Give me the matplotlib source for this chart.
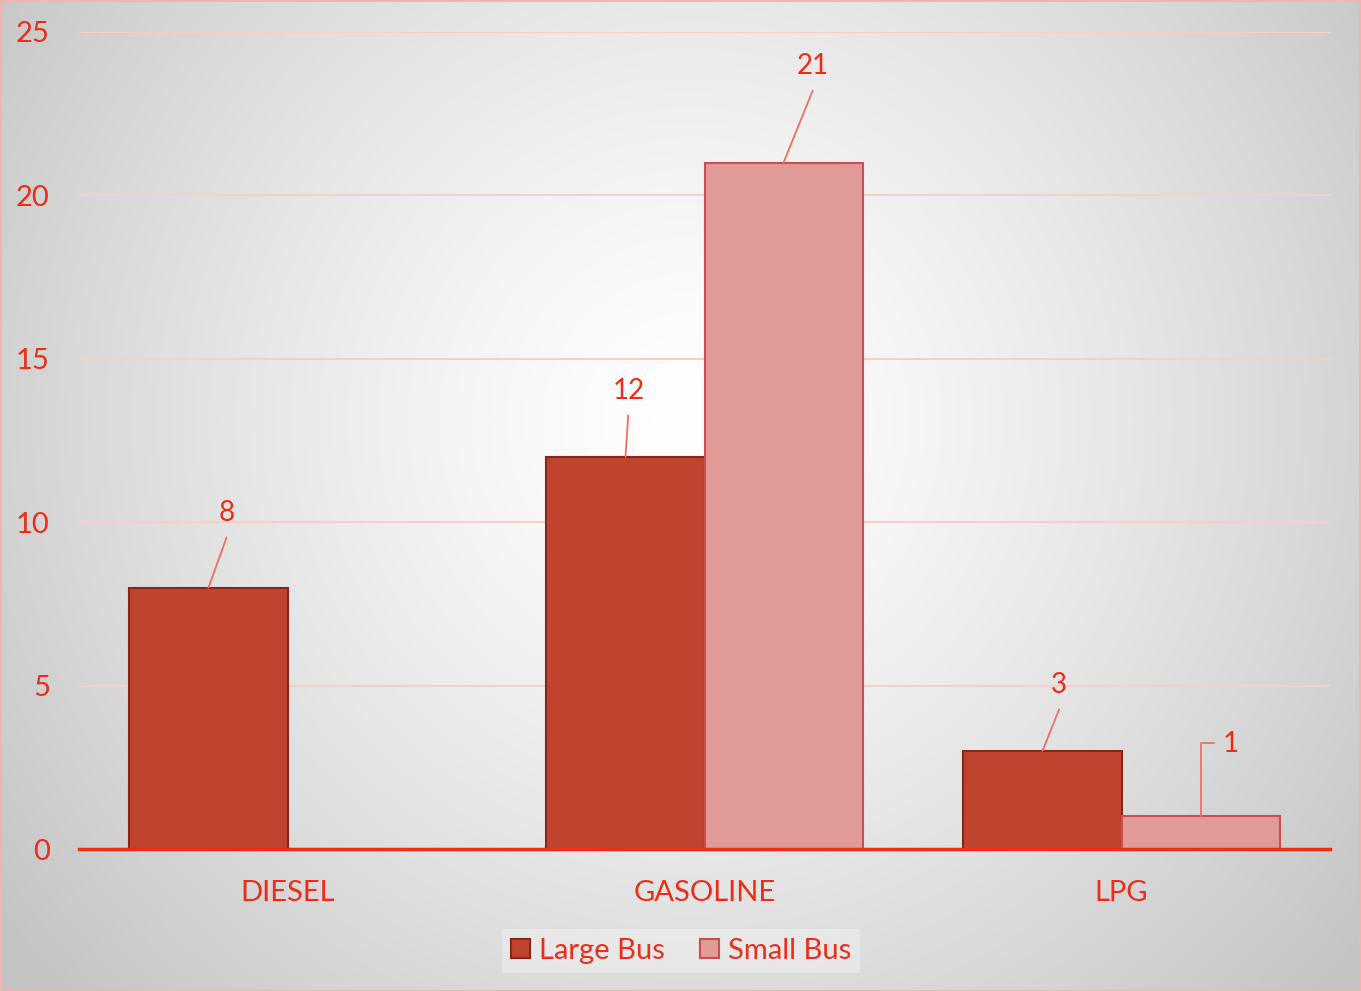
import numpy as np
import matplotlib
matplotlib.use("Agg")
import matplotlib.pyplot as plt
from matplotlib.patches import Patch

categories = ["DIESEL", "GASOLINE", "LPG"]
large_bus = [8, 12, 3]
small_bus = [None, 21, 1]
series_names = ["Large Bus", "Small Bus"]
y_ticks = [0, 5, 10, 15, 20, 25]

TXT = "#EC2D17"
LARGE_FC = "#C0432F"
LARGE_EC = "#8A2618"
SMALL_FC = "#E09A98"
SMALL_EC = "#C9504C"
GRID = "#F6CFC6"
LEADER = "#F07060"

plt.rcParams['font.family'] = ['Lato', 'DejaVu Sans']

W, H = 1361, 991
fig = plt.figure(figsize=(W / 100, H / 100), dpi=100)

# radial gradient background
bg = fig.add_axes([0, 0, 1, 1], zorder=-10)
yy, xx = np.mgrid[0:H, 0:W]
cx, cy = 690, 420
r = np.sqrt((xx - cx) ** 2 + (yy - cy) ** 2)
rn = np.clip(r / 850.0, 0, 1)
val = 1.0 - 0.23 * rn ** 1.3
img = np.dstack([val, val, val])
bg.imshow(img, extent=[0, W, H, 0], aspect='auto', interpolation='bilinear')
bg.set_xlim(0, W)
bg.set_ylim(H, 0)
bg.axis('off')
bg.add_patch(plt.Rectangle((0.5, 0.5), W - 1, H - 1, fill=False, ec="#F2B4AC", lw=1.5))

ax = fig.add_axes([79 / W, 1 - 849 / H, (1330 - 79) / W, (849 - 32) / H])
ax.patch.set_alpha(0)

x = np.arange(len(categories))
bw = 0.379
lv = np.array(large_bus, dtype=float)
sv = np.array([np.nan if v is None else v for v in small_bus], dtype=float)

ax.bar(x - bw / 2, lv, bw, color=LARGE_FC, edgecolor=LARGE_EC, linewidth=1.5, zorder=3)
mask = ~np.isnan(sv)
ax.bar(x[mask] + bw / 2, sv[mask], bw, color=SMALL_FC, edgecolor=SMALL_EC, linewidth=1.5, zorder=3)

ax.set_xlim(-0.5, len(categories) - 0.5)
ax.set_ylim(0, 25)
ax.set_yticks(y_ticks)
ax.yaxis.grid(True, color=GRID, linewidth=1.5, zorder=0)
ax.set_axisbelow(True)
for s in ['top', 'right', 'left']:
    ax.spines[s].set_visible(False)
ax.spines['bottom'].set_color(TXT)
ax.spines['bottom'].set_linewidth(2.5)
ax.spines['bottom'].set_zorder(5)
ax.set_xticks(x)
ax.set_xticklabels(categories)
ax.tick_params(axis='both', length=0, colors=TXT, labelsize=21)
ax.tick_params(axis='x', pad=22)
ax.tick_params(axis='y', pad=21)

# data labels with leader lines (offsets in points)
lab_off_large = [(13, 44), (2, 38), (12, 38)]
lab_off_small = [None, (21, 60), (22, 43)]

def label(xv, yv, off, txt, hook=False):
    ax.annotate(txt, xy=(xv, yv), xytext=off, textcoords='offset points',
                ha='center', va='bottom', color=TXT, fontsize=20, zorder=6)
    dx, dy = off
    if hook:
        ax.annotate("", xy=(xv, yv), xytext=(dx - 12, dy + 10), textcoords='offset points',
                    arrowprops=dict(arrowstyle='-', color=LEADER, lw=1.3,
                                    connectionstyle="angle,angleA=0,angleB=90,rad=0",
                                    shrinkA=0, shrinkB=0), zorder=6)
    else:
        ax.annotate("", xy=(xv, yv), xytext=(dx, dy - 8), textcoords='offset points',
                    arrowprops=dict(arrowstyle='-', color=LEADER, lw=1.3,
                                    shrinkA=0, shrinkB=0), zorder=6)

for i, v in enumerate(large_bus):
    label(x[i] - bw / 2, v, lab_off_large[i], str(v))
for i, v in enumerate(small_bus):
    if v is None:
        continue
    label(x[i] + bw / 2, v, lab_off_small[i], str(v), hook=(i == 2))

handles = [Patch(facecolor=LARGE_FC, edgecolor=LARGE_EC, linewidth=1.5),
           Patch(facecolor=SMALL_FC, edgecolor=SMALL_EC, linewidth=1.5)]
leg = fig.legend(handles, series_names, loc='center', bbox_to_anchor=(681 / W, 1 - 951 / H),
                 ncol=2, frameon=True, fontsize=21, handlelength=0.65, handleheight=0.65,
                 handletextpad=0.3, columnspacing=1.2, borderpad=0.15, borderaxespad=0)
leg.get_frame().set_facecolor("#F4F4F4")
leg.get_frame().set_edgecolor("none")
leg.get_frame().set_alpha(0.45)
leg.get_frame().set_boxstyle("square", pad=0.15)
for t in leg.get_texts():
    t.set_color(TXT)

fig.savefig("out.png", dpi=100)
